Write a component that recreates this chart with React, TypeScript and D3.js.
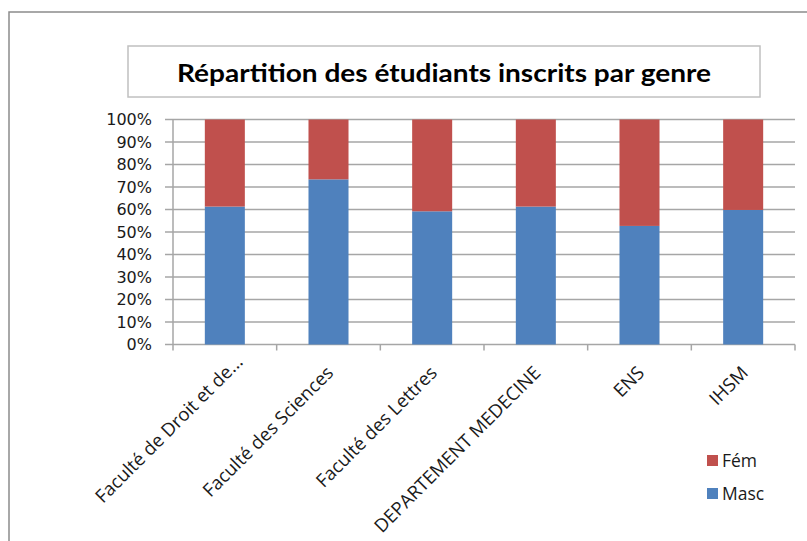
import React from "react";
import * as d3 from "d3";

const categories = [
  "Faculté de Droit et de...",
  "Faculté des Sciences",
  "Faculté des Lettres",
  "DEPARTEMENT MEDECINE",
  "ENS",
  "IHSM",
];
const masc = [0.613, 0.734, 0.592, 0.613, 0.527, 0.598];
const fem = masc.map((m) => 1 - m);
const yTicks = [0, 0.1, 0.2, 0.3, 0.4, 0.5, 0.6, 0.7, 0.8, 0.9, 1];
const legendItems = [
  { label: "Fém", color: "#C0504D" },
  { label: "Masc", color: "#4F81BD" },
];

const W = 807;
const H = 541;
const titleFont = "Lato, 'Open Sans', sans-serif";
const labelFont = "'Open Sans', 'Noto Sans', sans-serif";

const App = () => {
  const x = d3.scaleBand<string>().domain(categories).range([173, 795]).padding(0);
  const y = d3.scaleLinear().domain([0, 1]).range([344.5, 119.5]);
  const barW = x.bandwidth() * 0.386;

  const stack = d3
    .stack<number>()
    .keys(["masc", "fem"])
    .value((i, key) => (key === "masc" ? masc[i] : fem[i]));
  const series = stack(categories.map((_, i) => i));
  const colors = ["#4F81BD", "#C0504D"];

  return (
    <svg width={W} height={H} style={{ position: "absolute", left: 0, top: 0 }}>
      <rect x={0} y={0} width={W} height={H} fill="#fff" />
      {/* outer chart border */}
      <path d={`M9,${H} V12 H${W}`} fill="none" stroke="#8c8c8c" strokeWidth={1.5} />

      {/* title */}
      <rect x={128} y={46} width={632} height={51} fill="#fff" stroke="#c0c0c0" strokeWidth={1.5} />
      <text
        x={444}
        y={82}
        textAnchor="middle"
        fontFamily={titleFont}
        fontWeight="bold"
        fontSize={24}
        textLength={534}
        lengthAdjust="spacingAndGlyphs"
        fill="#000"
      >
        Répartition des étudiants inscrits par genre
      </text>

      {/* gridlines + y ticks */}
      {yTicks.map((t) => (
        <g key={t}>
          <line x1={165} x2={795} y1={y(t)} y2={y(t)} stroke="#a6a6a6" strokeWidth={1.5} />
          <text
            x={152}
            y={y(t) + 5.5}
            textAnchor="end"
            fontFamily="'DejaVu Sans', Verdana, sans-serif"
            fontSize={16}
            fill="#1a1a1a"
          >
            {d3.format(".0%")(t)}
          </text>
        </g>
      ))}
      <line x1={173} x2={173} y1={y(1)} y2={y(0)} stroke="#a6a6a6" strokeWidth={1.5} />

      {/* bars */}
      {series.map((s, si) =>
        s.map((d, i) => (
          <rect
            key={`${si}-${i}`}
            x={(x(categories[i]) as number) + (x.bandwidth() - barW) / 2}
            y={y(d[1])}
            width={barW}
            height={y(d[0]) - y(d[1])}
            fill={colors[si]}
          />
        ))
      )}

      {/* x ticks */}
      {[...categories.map((c) => x(c) as number), 795].map((px, i) => (
        <line key={i} x1={px} x2={px} y1={y(0)} y2={y(0) + 6} stroke="#a6a6a6" strokeWidth={1.5} />
      ))}

      {/* x labels */}
      {categories.map((c) => {
        const cut = c.endsWith("...");
        const cx = (x(c) as number) + x.bandwidth() / 2 + 6 + (cut ? 13 : 0);
        const cy = 374 - (cut ? 11 : 0);
        return (
          <text
            key={c}
            transform={`translate(${cx},${cy}) rotate(-45)`}
            textAnchor="end"
            fontFamily={labelFont}
            fontSize={18.5}
            fill="#1a1a1a"
          >
            {c}
          </text>
        );
      })}

      {/* legend */}
      {legendItems.map((l, i) => (
        <g key={l.label} transform={`translate(707,${455 + i * 33})`}>
          <rect width={11} height={11} fill={l.color} />
          <text x={15} y={12} fontFamily={labelFont} fontSize={17.5} fill="#1a1a1a">
            {l.label}
          </text>
        </g>
      ))}
    </svg>
  );
};

export default App;
